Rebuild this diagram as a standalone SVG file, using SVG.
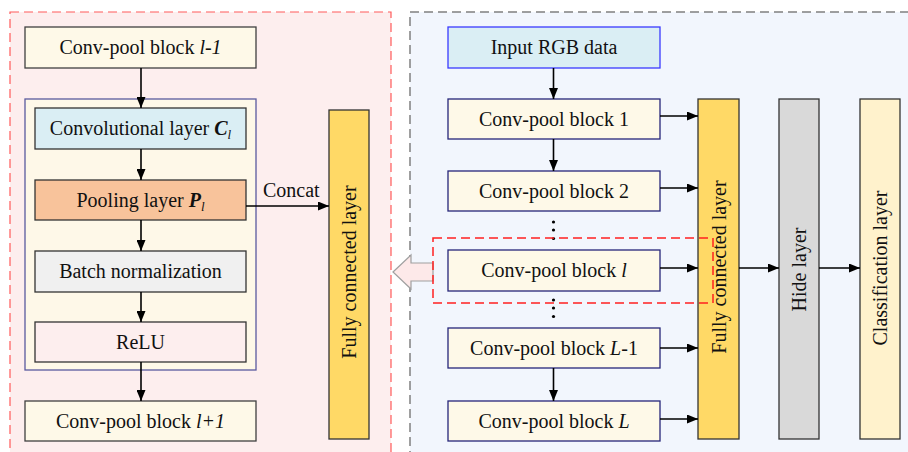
<svg xmlns="http://www.w3.org/2000/svg" width="908" height="452" viewBox="0 0 908 452">
  <defs>
    <marker id="arrow" markerUnits="userSpaceOnUse" markerWidth="11" markerHeight="9" refX="11" refY="4.5" orient="auto">
      <path d="M0,0 L11,4.5 L0,9 z" fill="#000"/>
    </marker>
    <style>
      text { font-family: "Liberation Serif", "Times New Roman", serif; font-size: 20px; fill: #111; }
      .c { text-anchor: middle; }
      .panel-l { fill: #fdeeee; stroke: #ff5a5a; stroke-width: 1.2; stroke-dasharray: 9 5; }
      .panel-r { fill: #f2f6fd; stroke: #808080; stroke-width: 1.5; stroke-dasharray: 9 5; }
      .blk { fill: #fef9e8; stroke: #404040; stroke-width: 1.3; }
      .blk-r { fill: #fef9e8; stroke: #26267a; stroke-width: 1.3; }
      .frame { fill: #fef8e8; stroke: #5a5a9e; stroke-width: 1.3; }
      .conv { fill: #daeef4; stroke: #333; stroke-width: 1.3; }
      .pool { fill: #f8c39b; stroke: #333; stroke-width: 1.3; }
      .bn { fill: #f0f0f0; stroke: #333; stroke-width: 1.3; }
      .relu { fill: #fdeeee; stroke: #333; stroke-width: 1.3; }
      .fc { fill: #ffd966; stroke: #333; stroke-width: 1.3; }
      .hide { fill: #d9d9d9; stroke: #333; stroke-width: 1.3; }
      .cls { fill: #fff2cc; stroke: #333; stroke-width: 1.3; }
      .input { fill: #daeef4; stroke: #3a3aff; stroke-width: 1.3; }
      .link { stroke: #000; stroke-width: 1.6; fill: none; marker-end: url(#arrow); }
      .dot { fill: #000; }
      .sel { fill: none; stroke: #ff2020; stroke-width: 1.5; stroke-dasharray: 9 5; }
      .hollow { fill: #fde9e9; stroke: #a0a0a0; stroke-width: 1.2; }
    </style>
  </defs>

  <!-- background panels -->
  <rect class="panel-l" x="10" y="12" width="381" height="460"/>
  <rect class="panel-r" x="410" y="12" width="520" height="460"/>

  <!-- left panel: inside one conv-pool block -->
  <g id="block-prev">
    <rect class="blk" x="25" y="27" width="231" height="41"/>
    <text class="c" x="140.5" y="54">Conv-pool block <tspan font-style="italic">l-1</tspan></text>
  </g>
  <g id="block-frame">
    <rect class="frame" x="25" y="99" width="231" height="271"/>
  </g>
  <g id="conv-layer">
    <rect class="conv" x="35" y="108" width="211" height="41"/>
    <text class="c" x="140.5" y="135">Convolutional layer <tspan font-weight="bold" font-style="italic">C</tspan><tspan font-style="italic" font-size="13" dy="4">l</tspan></text>
  </g>
  <g id="pool-layer">
    <rect class="pool" x="35" y="180" width="211" height="40"/>
    <text class="c" x="140.5" y="207">Pooling layer <tspan font-weight="bold" font-style="italic">P</tspan><tspan font-style="italic" font-size="13" dy="4">l</tspan></text>
  </g>
  <g id="batch-norm">
    <rect class="bn" x="35" y="251" width="211" height="41"/>
    <text class="c" x="140.5" y="278">Batch normalization</text>
  </g>
  <g id="relu">
    <rect class="relu" x="35" y="322" width="211" height="40"/>
    <text class="c" x="140.5" y="349">ReLU</text>
  </g>
  <g id="block-next">
    <rect class="blk" x="25" y="401" width="231" height="40"/>
    <text class="c" x="140.5" y="428">Conv-pool block <tspan font-style="italic">l+1</tspan></text>
  </g>
  <g id="fc-left">
    <rect class="fc" x="329" y="110" width="40" height="329"/>
    <text class="c" transform="translate(356 272) rotate(-90)">Fully connected layer</text>
  </g>

  <!-- right panel: whole network -->
  <g id="input">
    <rect class="input" x="448" y="27" width="212" height="41"/>
    <text class="c" x="554" y="54">Input RGB data</text>
  </g>
  <g id="block-1">
    <rect class="blk-r" x="448" y="99" width="212" height="40"/>
    <text class="c" x="554" y="126">Conv-pool block 1</text>
  </g>
  <g id="block-2">
    <rect class="blk-r" x="448" y="171" width="212" height="40"/>
    <text class="c" x="554" y="198">Conv-pool block 2</text>
  </g>
  <g id="block-l">
    <rect class="blk-r" x="448" y="250" width="212" height="41"/>
    <text class="c" x="554" y="277">Conv-pool block <tspan font-style="italic">l</tspan></text>
  </g>
  <g id="block-L-1">
    <rect class="blk-r" x="448" y="328" width="212" height="40"/>
    <text class="c" x="554" y="355">Conv-pool block <tspan font-style="italic">L</tspan>-1</text>
  </g>
  <g id="block-L">
    <rect class="blk-r" x="448" y="401" width="212" height="40"/>
    <text class="c" x="554" y="428">Conv-pool block <tspan font-style="italic">L</tspan></text>
  </g>
  <g id="ellipsis">
    <circle class="dot" cx="553.5" cy="222" r="1.6"/>
    <circle class="dot" cx="553.5" cy="230" r="1.6"/>
    <circle class="dot" cx="553.5" cy="238.5" r="1.6"/>
    <circle class="dot" cx="553.5" cy="300" r="1.6"/>
    <circle class="dot" cx="553.5" cy="308" r="1.6"/>
    <circle class="dot" cx="553.5" cy="316.5" r="1.6"/>
  </g>
  <g id="fc-right">
    <rect class="fc" x="698" y="99" width="41" height="340"/>
    <text class="c" transform="translate(725.5 267) rotate(-90)">Fully connected layer</text>
  </g>
  <g id="hide-layer">
    <rect class="hide" x="779" y="99" width="40" height="340"/>
    <text class="c" transform="translate(806 269.5) rotate(-90)">Hide layer</text>
  </g>
  <g id="classification-layer">
    <rect class="cls" x="860" y="99" width="40" height="340"/>
    <text class="c" transform="translate(887 268) rotate(-90)">Classification layer</text>
  </g>

  <!-- connectors -->
  <g id="connectors">
    <line class="link" x1="141" y1="68" x2="141" y2="108"/>
    <line class="link" x1="141" y1="149" x2="141" y2="180"/>
    <line class="link" x1="141" y1="220" x2="141" y2="251"/>
    <line class="link" x1="141" y1="292" x2="141" y2="322"/>
    <line class="link" x1="141" y1="362" x2="141" y2="401"/>
    <line class="link" x1="246" y1="206" x2="329" y2="206"/>
    <text x="263" y="197">Concat</text>

    <line class="link" x1="553.5" y1="68" x2="553.5" y2="99"/>
    <line class="link" x1="553.5" y1="139" x2="553.5" y2="171"/>
    <line class="link" x1="553.5" y1="368" x2="553.5" y2="401"/>

    <line class="link" x1="660" y1="116" x2="698" y2="116"/>
    <line class="link" x1="660" y1="188" x2="698" y2="188"/>
    <line class="link" x1="660" y1="268" x2="698" y2="268"/>
    <line class="link" x1="660" y1="348" x2="698" y2="348"/>
    <line class="link" x1="660" y1="419" x2="698" y2="419"/>
    <line class="link" x1="739" y1="268" x2="779" y2="268"/>
    <line class="link" x1="819" y1="268" x2="860" y2="268"/>

    <polygon class="hollow" points="393,272 411,255 411,263 433,263 433,281 411,281 411,289"/>
  </g>

  <!-- highlight of block l -->
  <rect class="sel" x="433" y="238" width="280" height="65"/>
</svg>
